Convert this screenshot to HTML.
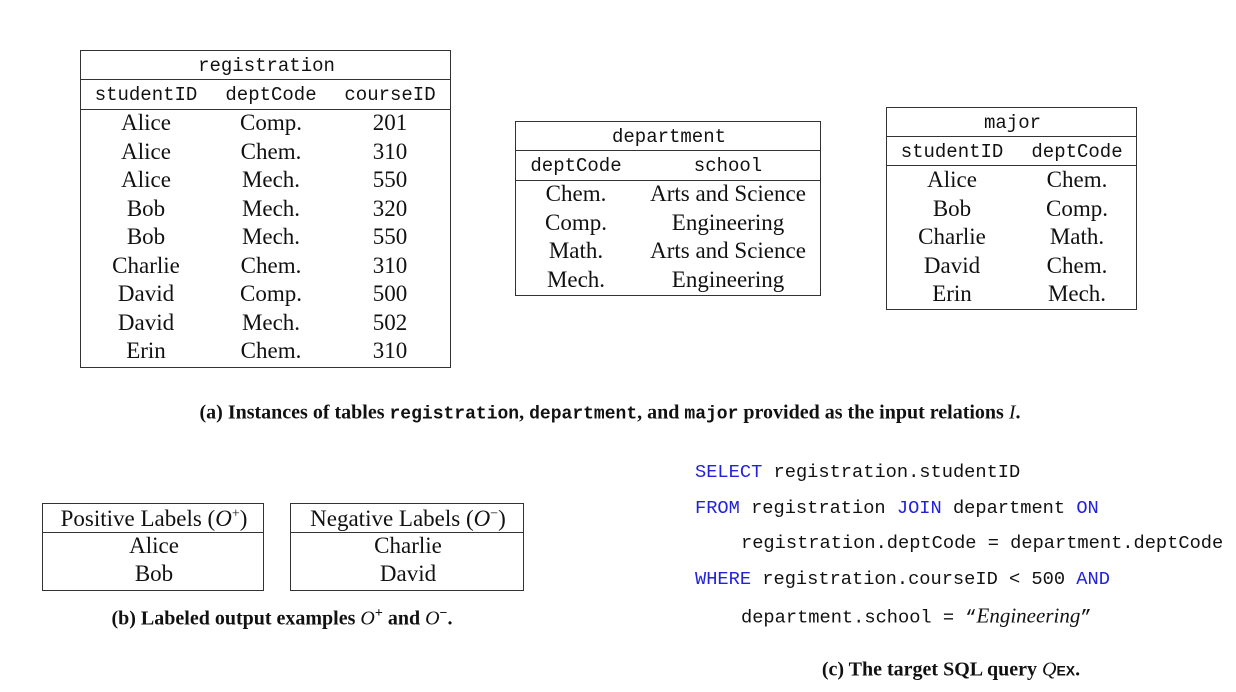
<!DOCTYPE html>
<html><head><meta charset="utf-8">
<style>
body{margin:0;width:1236px;height:692px;background:#fff;position:relative;overflow:hidden;font-family:"Liberation Serif",serif;color:#111}
.box{position:absolute;border:1px solid #333;box-sizing:border-box}
.hl{position:absolute;left:0;right:0;height:0;border-top:1px solid #333}
.t{position:absolute;white-space:nowrap;transform:translate(-50%,-50%)}
.m{font-family:"Liberation Mono",monospace;font-size:19px}
.s{font-size:23px}
.cap{position:absolute;white-space:nowrap;transform:translate(-50%,-50%);font-weight:bold;font-size:20px}
.cap code{font-family:"Liberation Mono",monospace;font-size:18px}
.sql{position:absolute;white-space:nowrap;font-family:"Liberation Mono",monospace;font-size:18.7px;transform:translateY(-50%)}
.kw{color:#2222dd}
sup{line-height:0}
</style></head><body>
<div id="root"></div>

<div class="cap" style="left:610px;top:413px">(a) Instances of tables <code>registration</code>, <code>department</code>, and <code>major</code> provided as the input relations <i style="font-weight:normal">I</i>.</div>
<div class="cap" style="left:282px;top:619px">(b) Labeled output examples <i style="font-weight:normal">O</i><sup style="font-size:14px">+</sup> and <i style="font-weight:normal">O</i><sup style="font-size:14px">−</sup>.</div>
<div class="cap" style="left:951px;top:670px">(c) The target SQL query <i style="font-weight:normal">Q</i><span style="font-family:'Liberation Sans',sans-serif;font-size:14px">EX</span>.</div>

<div class="sql" style="left:695px;top:472px"><span class="kw">SELECT</span> registration.studentID</div>
<div class="sql" style="left:695px;top:508px"><span class="kw">FROM</span> registration <span class="kw">JOIN</span> department <span class="kw">ON</span></div>
<div class="sql" style="left:741px;top:543px">registration.deptCode = department.deptCode</div>
<div class="sql" style="left:695px;top:579px"><span class="kw">WHERE</span> registration.courseID &lt; 500 <span class="kw">AND</span></div>
<div class="sql" style="left:741px;top:616px">department.school = “<i style="font-family:'Liberation Serif',serif;font-size:21px">Engineering</i>”</div>

<script>
const regRows=[["Alice","Comp.","201"],["Alice","Chem.","310"],["Alice","Mech.","550"],["Bob","Mech.","320"],["Bob","Mech.","550"],["Charlie","Chem.","310"],["David","Comp.","500"],["David","Mech.","502"],["Erin","Chem.","310"]];
const deptRows=[["Chem.","Arts and Science"],["Comp.","Engineering"],["Math.","Arts and Science"],["Mech.","Engineering"]];
const majorRows=[["Alice","Chem."],["Bob","Comp."],["Charlie","Math."],["David","Chem."],["Erin","Mech."]];
const posRows=[["Alice"],["Bob"]];
const negRows=[["Charlie"],["David"]];

function build(name,x,y,w,h,title,titleMono,headers,cols,rowY0,pitch,rows,lines){
  const b=document.createElement('div');
  b.className='box';
  
  
  b.style.cssText=`left:${x}px;top:${y}px;width:${w}px;height:${h}px`;
  document.body.appendChild(b);
  lines.forEach(ly=>{const l=document.createElement('div');l.className='hl';l.style.top=(ly-y-1)+'px';
    
    
    b.appendChild(l);});
  const tt=document.createElement('div');
  tt.className='t '+(titleMono?'m':'s');
  tt.innerHTML=title;
  tt.style.left=(w/2)+'px';tt.style.top=((lines[0]-y)/2)+'px';
  
  
  b.appendChild(tt);
  if(headers){headers.forEach((hd,i)=>{const e=document.createElement('div');e.className='t m';e.textContent=hd;
    e.style.left=(cols[i]-x)+'px';e.style.top=((lines[0]+lines[1])/2-y)+'px';
    
    
    b.appendChild(e);});}
  rows.forEach((r,ri)=>r.forEach((v,i)=>{const e=document.createElement('div');e.className='t s';e.textContent=v;
    e.style.left=(cols[i]-x)+'px';e.style.top=(rowY0+ri*pitch-y)+'px';
    
    
    b.appendChild(e);}));
}
build('registration',80,50,371,318,'registration',true,['studentID','deptCode','courseID'],[145,270,389],122,28.5,regRows,[79,109]);
build('department',515,121,306,175,'department',true,['deptCode','school'],[575,727],193,28.7,deptRows,[150,180]);
build('major',886,107,251,203,'major',true,['studentID','deptCode'],[951,1076],179,28.5,majorRows,[136,165]);
build('positive-labels',42,503,222,88,'Positive Labels (<i>O</i><sup style="font-size:14px">+</sup>)',false,null,[153],545,28,posRows,[532]);
build('negative-labels',290,503,234,88,'Negative Labels (<i>O</i><sup style="font-size:14px">−</sup>)',false,null,[407],545,28,negRows,[532]);
</script>
</body></html>
